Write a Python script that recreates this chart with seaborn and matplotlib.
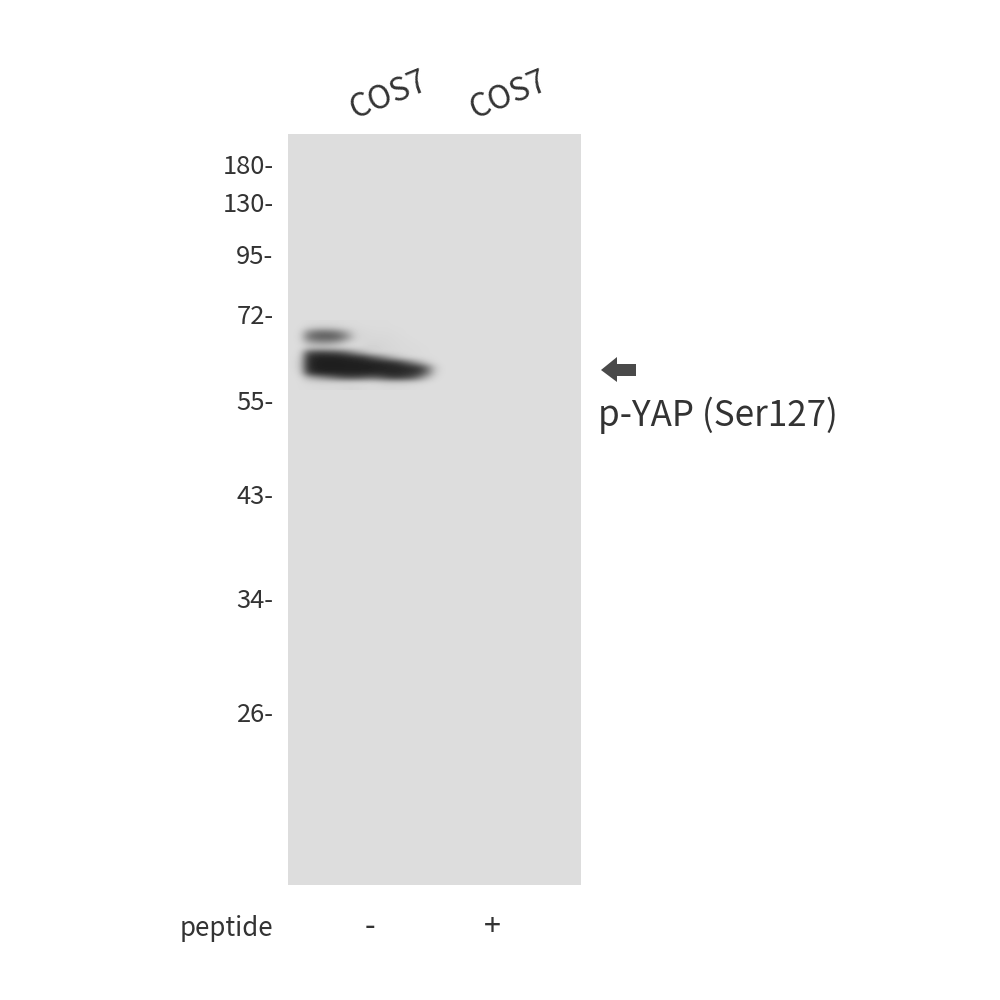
import numpy as np
import matplotlib
matplotlib.use("Agg")
import matplotlib.pyplot as plt
from matplotlib.patches import Polygon
import seaborn as sns

sns.set_theme(style="white")
plt.rcParams['font.family'] = ['Noto Sans CJK SC', 'DejaVu Sans']

lanes = ["COS7", "COS7"]
peptide = ["-", "+"]
marker_labels = ["180-", "130-", "95-", "72-", "55-", "43-", "34-", "26-"]
marker_rows = [165, 204, 256, 315, 402, 496, 600, 713]
target = "p-YAP (Ser127)"
membrane = [[221]]
# grey level of the band area
band = [
 [221,221,219,218,218,218,218,219,219,220,220,220,220,221,221,221,221,221,221,221],
 [221,220,208,200,198,200,208,214,217,218,219,219,219,220,220,221,221,221,221,221],
 [221,218,145,115,110,115,135,175,213,216,217,218,218,219,220,221,221,221,221,221],
 [221,216,125,100, 95, 95,110,155,210,215,216,216,216,218,219,220,221,221,221,221],
 [221,219,175,155,150,155,175,205,216,215,213,214,216,217,218,219,220,221,221,221],
 [221,220,205,200,200,205,212,216,217,214,210,212,214,216,218,218,219,220,221,221],
 [221,217, 95, 75, 75, 80, 90,115,150,180,205,212,215,216,217,218,219,220,221,221],
 [221,210, 55, 36, 34, 34, 36, 40, 48, 60, 90,120,155,185,205,215,218,219,220,221],
 [221,205, 50, 32, 30, 30, 30, 32, 32, 34, 36, 40, 48, 60, 90,130,170,205,219,221],
 [221,205, 50, 32, 30, 30, 30, 30, 30, 32, 32, 34, 36, 36, 40, 48, 65,125,205,221],
 [221,212, 70, 42, 36, 36, 36, 36, 36, 36, 38, 40, 40, 40, 44, 50, 65,125,208,221],
 [221,219,175,150,130,110, 90, 80, 80, 90,100, 90, 70, 60, 70, 85,130,185,217,221],
 [221,220,215,213,212,212,212,213,215,216,216,210,205,205,205,210,215,219,221,221],
 [221,220,219,218,217,217,216,214,214,217,218,218,217,217,218,219,220,221,221,221],
]

W = H = 1000
def rect(l, t, r, b):
    return [l / W, 1 - b / H, (r - l) / W, (b - t) / H]

fig = plt.figure(figsize=(10, 10), dpi=100, facecolor="white")
ink = "#333333"

ax = fig.add_axes(rect(288, 134, 581, 885))
sns.heatmap(membrane, ax=ax, cmap="gray", vmin=0, vmax=255, cbar=False,
            xticklabels=False, yticklabels=False)
ax.set_xticks([]); ax.set_yticks([])

bx = fig.add_axes(rect(288, 320, 448, 390))
sns.heatmap(band, ax=bx, cmap="gray", vmin=0, vmax=255, cbar=False,
            xticklabels=False, yticklabels=False)
bx.imshow(band, cmap="gray", vmin=0, vmax=255, interpolation="bicubic",
          extent=(0, len(band[0]), len(band), 0), aspect="auto", zorder=3)
bx.set_xlim(0, len(band[0])); bx.set_ylim(len(band), 0)
bx.axis("off")

ov = fig.add_axes([0, 0, 1, 1], facecolor="none")
ov.set_xlim(0, W); ov.set_ylim(H, 0); ov.axis("off")

for lab, y in zip(marker_labels, marker_rows):
    ov.text(273.5, y + 1.5, lab, ha="right", va="center", fontsize=18.4, color=ink)
for lab, x in zip(lanes, [388.5, 508.5]):
    ov.text(x, 96, lab, ha="center", va="center", rotation=22, fontsize=23, color=ink)
ov.text(273.5, 929, "peptide", ha="right", va="center", fontsize=18.6, color=ink)
for lab, x in zip(peptide, [370, 492]):
    ov.text(x, 927, lab, ha="center", va="center", fontsize=22, color=ink)
ov.add_patch(Polygon([(601, 370), (617, 357), (617, 364), (636, 364),
                      (636, 376), (617, 376), (617, 382)],
                     closed=True, facecolor="#4a4a4a", edgecolor="none"))
ov.text(598, 415, target, ha="left", va="center", fontsize=25.2, color=ink)

fig.savefig("out.png", dpi=100, facecolor="white")
